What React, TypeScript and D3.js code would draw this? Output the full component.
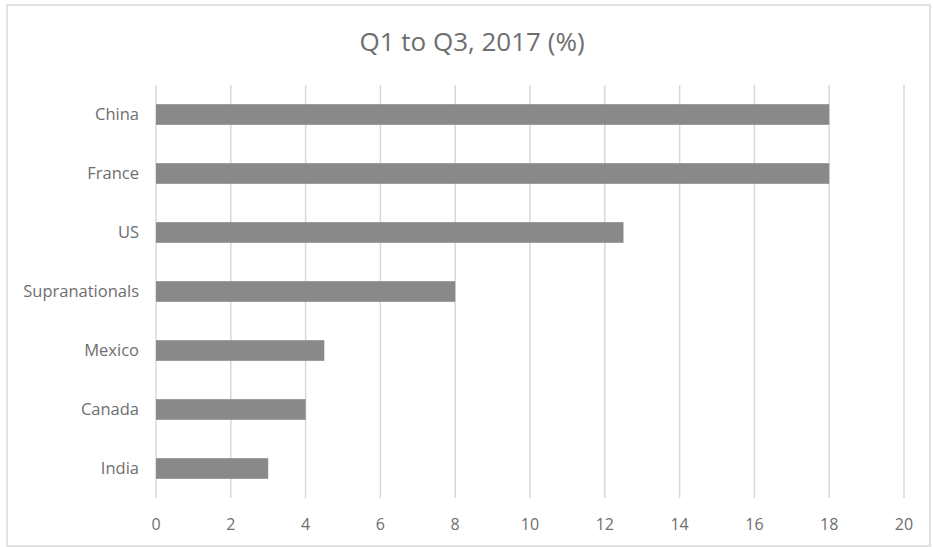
import * as d3 from "d3";

const categories = ["China", "France", "US", "Supranationals", "Mexico", "Canada", "India"];
const values = [18, 18, 12.5, 8, 4.5, 4, 3];
const xTicks = [0, 2, 4, 6, 8, 10, 12, 14, 16, 18, 20];
const title = "Q1 to Q3, 2017 (%)";

const width = 933;
const height = 547;
const margin = { top: 85, right: 29, bottom: 49, left: 156 };

const font = "'Open Sans', sans-serif";
const textColor = "#6e6e6e";

export default function App() {
  const innerW = width - margin.left - margin.right;
  const innerH = height - margin.top - margin.bottom;

  const x = d3.scaleLinear().domain([0, 20]).range([0, innerW]);
  const y = d3
    .scaleBand()
    .domain(categories)
    .range([0, innerH])
    .paddingInner(0.65)
    .paddingOuter(0.325);

  return (
    <svg
      width={width}
      height={height}
      style={{ position: "absolute", left: 0, top: 0, background: "#fff" }}
    >
      <rect x={7} y={5} width={923} height={541} fill="#fff" stroke="#d9d9d9" strokeWidth={1.5} />
      <text
        x={472}
        y={51}
        textAnchor="middle"
        fontFamily={font}
        fontSize={26}
        fill={textColor}
      >
        {title}
      </text>
      <g transform={`translate(${margin.left},${margin.top})`}>
        {xTicks.map((t) => (
          <g key={t}>
            <line x1={x(t)} x2={x(t)} y1={0} y2={innerH} stroke="#d9d9d9" strokeWidth={1.5} />
            <text
              x={x(t)}
              y={innerH + 32}
              textAnchor="middle"
              fontFamily={font}
              fontSize={16}
              fill={textColor}
            >
              {t}
            </text>
          </g>
        ))}
        {categories.map((c, i) => (
          <g key={c}>
            <rect x={0} y={y(c)} width={x(values[i])} height={y.bandwidth()} fill="#898989" />
            <text
              x={-17}
              y={(y(c) as number) + y.bandwidth() / 2}
              dy="0.35em"
              textAnchor="end"
              fontFamily={font}
              fontSize={16.5}
              fill={textColor}
            >
              {c}
            </text>
          </g>
        ))}
      </g>
    </svg>
  );
}
